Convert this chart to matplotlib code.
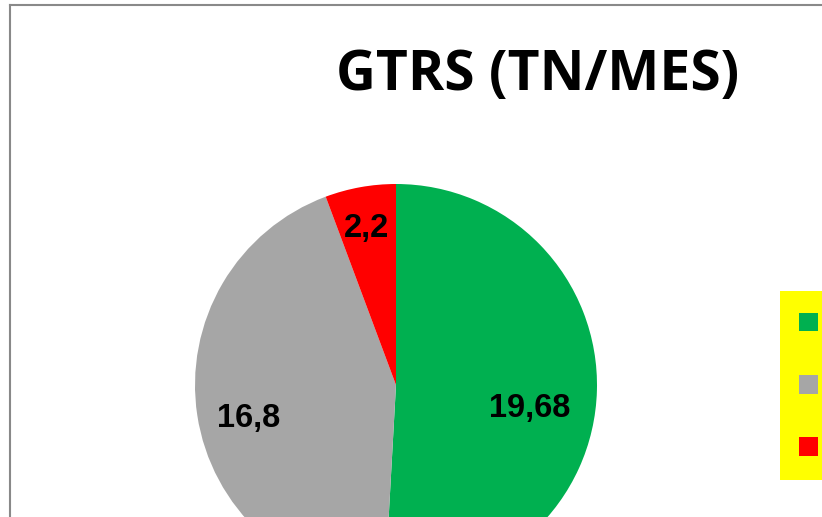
import matplotlib
matplotlib.use("Agg")
import matplotlib.pyplot as plt
from matplotlib.lines import Line2D
import numpy as np

# ---- data ----
categories = ["Orgánicos", "Reciclables", "Peligrosos"]
values = [19.68, 16.8, 2.2]
value_labels = ["19,68", "16,8", "2,2"]
title = "GTRS (TN/MES)"

colors = ["#00B050", "#A6A6A6", "#FF0000"]

W, H = 822, 517
fig = plt.figure(figsize=(W / 100, H / 100), dpi=100)
fig.patch.set_facecolor("white")
ax = fig.add_axes([0, 0, 1, 1])

cx, cy, R = 396, H - 385, 201
wedges, texts = ax.pie(values, colors=colors, startangle=90, counterclock=False,
                       center=(cx, cy), radius=R, labels=value_labels,
                       labeldistance=0.7,
                       wedgeprops=dict(linewidth=0),
                       textprops=dict(family="Liberation Sans", fontweight="bold",
                                      fontsize=23.5, color="black"))
# label placement (fraction of radius, angle adjustment in degrees)
lab_dist = [0.674, 0.75, 0.794]
lab_adj = [-8.6, 4.3, 0.3]
for w, t, d, a in zip(wedges, texts, lab_dist, lab_adj):
    ang = np.deg2rad((w.theta1 + w.theta2) / 2 + a)
    t.set_position((cx + d * R * np.cos(ang), cy + d * R * np.sin(ang)))
    t.set_ha("center")
    t.set_va("center")

ax.set_xlim(0, W)
ax.set_ylim(0, H)
ax.set_aspect("equal")
ax.axis("off")

# title
fig.text(537.5 / W, 1 - 90 / H, title, ha="center", va="baseline",
         family="Open Sans", fontweight="bold", fontsize=39.7)

# legend
fs = 18
fs_px = fs * 100 / 72
leg = ax.legend(wedges, categories, loc="upper left",
                bbox_to_anchor=(780 / W, 1 - 291 / H), bbox_transform=fig.transFigure,
                borderaxespad=0, fontsize=fs, frameon=True, fancybox=False,
                facecolor="#FFFF00", edgecolor="none", framealpha=1,
                handlelength=19 / fs_px, handleheight=19 / fs_px,
                handletextpad=1.2, labelspacing=1.53, borderpad=0.77)

# chart border
bc = "#898989"
fig.add_artist(Line2D([10 / W, 10 / W], [0, 1 - 5 / H], color=bc, lw=1.5,
                      transform=fig.transFigure, solid_capstyle="projecting"))
fig.add_artist(Line2D([10 / W, 1], [1 - 5 / H, 1 - 5 / H], color=bc, lw=1.5,
                      transform=fig.transFigure, solid_capstyle="projecting"))

fig.savefig("out.png", dpi=100)
